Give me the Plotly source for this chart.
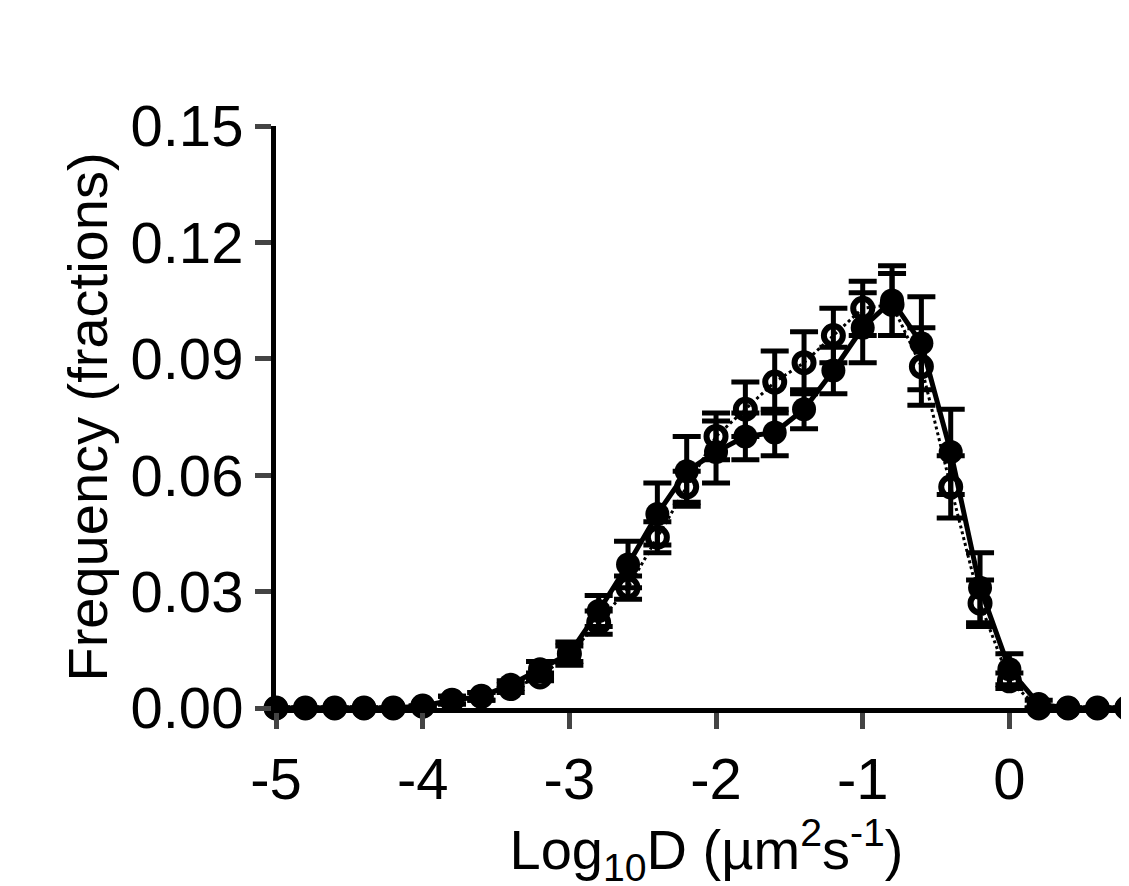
import plotly.graph_objects as go

x = [round(-5 + 0.2*i, 1) for i in range(30)]
filled = [0,0,0,0,0,0.0005,0.002,0.003,0.006,0.010,0.014,0.025,0.037,0.050,0.061,0.066,0.070,0.071,0.077,0.087,0.098,0.105,0.094,0.066,0.031,0.010,0.001,0,0,0]
filled_err = [0,0,0,0,0,0,0.001,0.001,0.001,0.002,0.003,0.004,0.006,0.008,0.009,0.008,0.006,0.006,0.005,0.006,0.009,0.009,0.012,0.011,0.009,0.004,0.001,0,0,0]
open_ = [0,0,0,0,0,0.0005,0.002,0.003,0.005,0.008,0.014,0.022,0.031,0.044,0.057,0.070,0.077,0.084,0.089,0.096,0.103,0.104,0.088,0.057,0.027,0.007,0,0,0,0]
open_err = [0,0,0,0,0,0,0.001,0.001,0.001,0.001,0.002,0.003,0.003,0.004,0.004,0.006,0.007,0.008,0.008,0.007,0.007,0.008,0.010,0.008,0.006,0.002,0,0,0,0]

fig = go.Figure()
fig.add_trace(go.Scatter(x=x, y=open_, mode="lines+markers",
    line=dict(color="black", width=3, dash="dot"),
    marker=dict(symbol="circle-open", size=19, color="black", line=dict(width=6)),
    error_y=dict(type="data", array=open_err, color="black", thickness=5, width=14),
    cliponaxis=False))
fig.add_trace(go.Scatter(x=x, y=filled, mode="lines+markers",
    line=dict(color="black", width=5),
    marker=dict(symbol="circle", size=24, color="black"),
    error_y=dict(type="data", array=filled_err, color="black", thickness=5, width=14),
    cliponaxis=False))

fig.update_layout(
    width=1129, height=886, showlegend=False,
    paper_bgcolor="white", plot_bgcolor="white",
    margin=dict(l=268, r=0, t=118, b=186),
    font=dict(family="Liberation Sans, Arial", size=58, color="black"),
    xaxis=dict(range=[-5, 0.87], tickvals=[-5,-4,-3,-2,-1,0], ticktext=["-5","-4","-3","-2","-1","0"],
               showline=True, linecolor="black", linewidth=5, ticks="outside", ticklen=16, tickwidth=5,
               showgrid=False, zeroline=False,
               title=dict(text="Log<sub>10</sub>D (µm<sup>2</sup>s<sup>-1</sup>)", font=dict(size=56), standoff=4)),
    yaxis=dict(range=[0, 0.15], tickvals=[0,0.03,0.06,0.09,0.12,0.15],
               ticktext=["0.00","0.03","0.06","0.09","0.12","0.15"],
               showline=True, linecolor="black", linewidth=5, ticks="outside", ticklen=16, tickwidth=5,
               showgrid=False, zeroline=False,
               title=dict(text="Frequency (fractions)", font=dict(size=56), standoff=6)),
)
fig.write_html("out.html")
